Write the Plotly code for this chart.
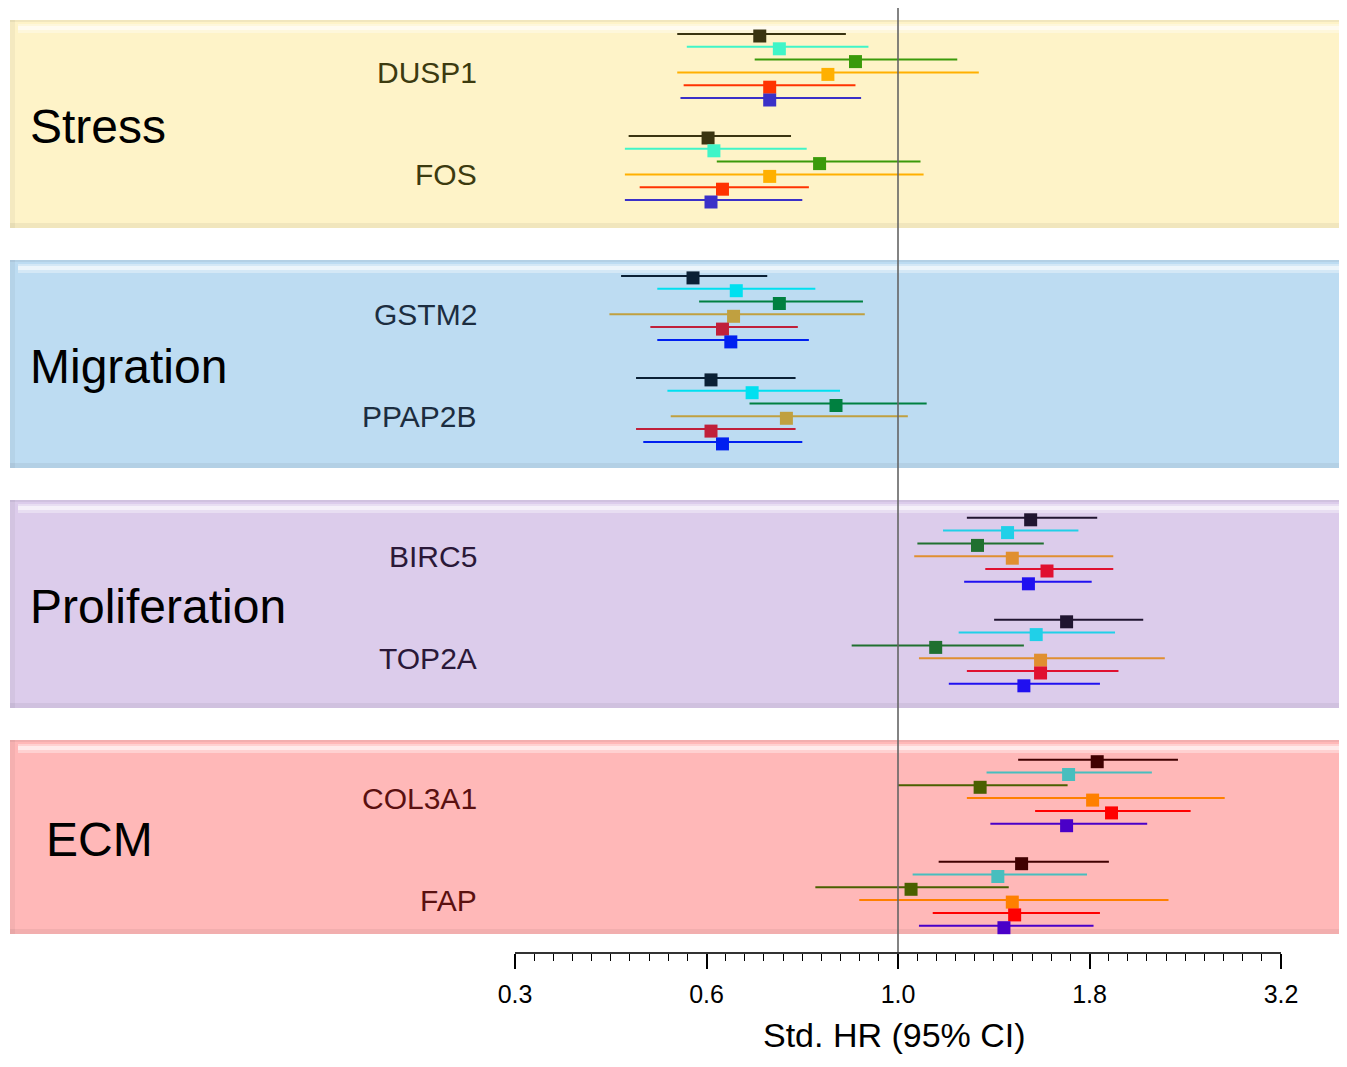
import plotly.graph_objects as go

# ---------------- data ----------------
GROUPS = ["Stress", "Migration", "Proliferation", "ECM"]
GENES = [["DUSP1", "FOS"], ["GSTM2", "PPAP2B"], ["BIRC5", "TOP2A"], ["COL3A1", "FAP"]]

DUSP1_HR = [0.66, 0.70, 0.88, 0.81, 0.68, 0.68]
DUSP1_LO = [0.515, 0.53, 0.65, 0.515, 0.525, 0.52]
DUSP1_HI = [0.855, 0.915, 1.195, 1.275, 0.88, 0.895]
FOS_HR = [0.565, 0.575, 0.79, 0.68, 0.59, 0.57]
FOS_LO = [0.445, 0.44, 0.58, 0.44, 0.46, 0.44]
FOS_HI = [0.725, 0.76, 1.07, 1.08, 0.765, 0.75]
GSTM2_HR = [0.54, 0.615, 0.70, 0.61, 0.59, 0.605]
GSTM2_LO = [0.435, 0.485, 0.55, 0.42, 0.475, 0.485]
GSTM2_HI = [0.675, 0.78, 0.90, 0.905, 0.74, 0.765]
PPAP2B_HR = [0.57, 0.645, 0.83, 0.715, 0.57, 0.59]
PPAP2B_LO = [0.455, 0.50, 0.64, 0.505, 0.455, 0.465]
PPAP2B_HI = [0.735, 0.84, 1.09, 1.03, 0.735, 0.75]
BIRC5_HR = [1.49, 1.39, 1.27, 1.41, 1.565, 1.48]
BIRC5_LO = [1.23, 1.145, 1.06, 1.05, 1.30, 1.22]
BIRC5_HI = [1.82, 1.72, 1.55, 1.91, 1.91, 1.79]
TOP2A_HR = [1.66, 1.515, 1.12, 1.535, 1.535, 1.46]
TOP2A_LO = [1.335, 1.20, 0.87, 1.065, 1.23, 1.165]
TOP2A_HI = [2.09, 1.92, 1.46, 2.23, 1.94, 1.835]
COL3A1_HR = [1.82, 1.67, 1.28, 1.795, 1.90, 1.66]
COL3A1_LO = [1.435, 1.305, 1.00, 1.23, 1.51, 1.32]
COL3A1_HI = [2.32, 2.145, 1.665, 2.67, 2.41, 2.115]
FAP_HR = [1.45, 1.35, 1.04, 1.41, 1.42, 1.375]
FAP_LO = [1.13, 1.045, 0.78, 0.89, 1.11, 1.065]
FAP_HI = [1.885, 1.765, 1.395, 2.255, 1.835, 1.80]

TICK_LABELS = ["0.3", "0.6", "1.0", "1.8", "3.2"]
AXIS_TITLE = "Std. HR (95% CI)"

DATA = {
    "DUSP1": (DUSP1_HR, DUSP1_LO, DUSP1_HI),
    "FOS": (FOS_HR, FOS_LO, FOS_HI),
    "GSTM2": (GSTM2_HR, GSTM2_LO, GSTM2_HI),
    "PPAP2B": (PPAP2B_HR, PPAP2B_LO, PPAP2B_HI),
    "BIRC5": (BIRC5_HR, BIRC5_LO, BIRC5_HI),
    "TOP2A": (TOP2A_HR, TOP2A_LO, TOP2A_HI),
    "COL3A1": (COL3A1_HR, COL3A1_LO, COL3A1_HI),
    "FAP": (FAP_HR, FAP_LO, FAP_HI),
}

# ---------------- styles ----------------
COLORS = [
    ["#3a3410", "#40f5c8", "#3a9a0a", "#ffb000", "#ff3300", "#3a30c8"],
    ["#0a2035", "#00e0f0", "#008040", "#c0a040", "#c0203a", "#0020f0"],
    ["#201530", "#20d0e8", "#207030", "#e08f30", "#e01030", "#2010f0"],
    ["#400000", "#48bebe", "#4a6000", "#ff8000", "#ff0000", "#4a00c8"],
]
PANEL_FILL = ["#fef3c8", "#bddcf2", "#dccceb", "#ffb8b8"]
PANEL_Y = [(20, 228), (260, 468), (500, 708), (740, 934)]
GENE_COLOR = ["#3c3a0f", "#1c2d40", "#2a1838", "#5a1010"]
GROUP_LABEL_X = [28, 28, 28, 44]

# page body has an 8px margin; keep the figure inside the window
OFF = 8
W, H = 1347 - 2 * OFF, 1067 - 2 * OFF
AX_Y = 952          # axis line, in window pixels
FONT = "Liberation Sans, Arial, sans-serif"


def px(x):  # window pixel -> paper x
    return (x - OFF) / W


def py(y):  # window pixel -> paper y
    return 1 - (y - OFF) / H


fig = go.Figure()
shapes = []
annotations = []

for g, grp in enumerate(GROUPS):
    y_top, y_bot = PANEL_Y[g]
    shapes.append(dict(type="rect", xref="paper", yref="y", x0=px(10), x1=1,
                       y0=y_top, y1=y_bot, fillcolor=PANEL_FILL[g], line_width=0, layer="below"))
    # bevel: thin darker top edge, bright highlight band, shaded bottom and left edges
    shapes.append(dict(type="rect", xref="paper", yref="y", x0=px(10), x1=1,
                       y0=y_top, y1=y_top + 2, fillcolor="rgba(0,0,0,0.05)",
                       line_width=0, layer="below"))
    shapes.append(dict(type="rect", xref="paper", yref="y", x0=px(18), x1=1,
                       y0=y_top + 4, y1=y_top + 13, fillcolor="rgba(255,255,255,0.35)",
                       line_width=0, layer="below"))
    shapes.append(dict(type="rect", xref="paper", yref="y", x0=px(18), x1=1,
                       y0=y_top + 6, y1=y_top + 10, fillcolor="rgba(255,255,255,0.55)",
                       line_width=0, layer="below"))
    shapes.append(dict(type="rect", xref="paper", yref="y", x0=px(10), x1=1,
                       y0=y_bot - 5, y1=y_bot, fillcolor="rgba(0,0,0,0.05)",
                       line_width=0, layer="below"))
    shapes.append(dict(type="rect", xref="paper", yref="y", x0=px(10), x1=px(15),
                       y0=y_top, y1=y_bot, fillcolor="rgba(0,0,0,0.04)",
                       line_width=0, layer="below"))

    g_start = 34 + g * 241.9
    ys_all = []
    for k, gene in enumerate(GENES[g]):
        base = g_start + k * 102
        ys_all.append([base + r * 12.8 for r in range(6)])
        annotations.append(dict(text=gene, xref="paper", yref="y", x=px(479),
                                y=base + 3 * 12.8, xanchor="right", yanchor="middle",
                                showarrow=False,
                                font=dict(family=FONT, size=30, color=GENE_COLOR[g])))
    annotations.append(dict(text=grp, xref="paper", yref="y", x=px(GROUP_LABEL_X[g]),
                            y=(y_top + y_bot) / 2 + 2, xanchor="left", yanchor="middle",
                            showarrow=False, font=dict(family=FONT, size=48, color="black")))

    for c in range(6):
        lx, ly, mx, my = [], [], [], []
        for k, gene in enumerate(GENES[g]):
            hr, lo, hi = DATA[gene]
            y = ys_all[k][c]
            lx += [lo[c], hi[c], None]
            ly += [y, y, None]
            mx.append(hr[c])
            my.append(y + 2)
        fig.add_trace(go.Scatter(x=lx, y=ly, mode="lines",
                                 line=dict(color=COLORS[g][c], width=2),
                                 showlegend=False, hoverinfo="skip"))
        fig.add_trace(go.Scatter(x=mx, y=my, mode="markers",
                                 marker=dict(symbol="square", size=13, color=COLORS[g][c],
                                             line=dict(width=0)),
                                 showlegend=False))

# reference line at HR = 1
shapes.append(dict(type="line", xref="x", yref="y", x0=1, x1=1, y0=OFF, y1=AX_Y,
                   line=dict(color="rgba(100,100,100,0.8)", width=2), layer="above"))

annotations.append(dict(text=AXIS_TITLE, xref="paper", yref="paper", x=px(894),
                        y=py(1035), xanchor="center", yanchor="middle", showarrow=False,
                        borderpad=0,
                        font=dict(family=FONT, size=34, color="black")))

major_vals = [10 ** (k / 4) for k in range(-2, 3)]
minor_vals = [10 ** (k * 0.025) for k in range(-20, 21) if k % 10 != 0]

fig.update_layout(
    width=W, height=H, autosize=False,
    margin=dict(l=0, r=0, t=0, b=0),
    paper_bgcolor="white", plot_bgcolor="rgba(0,0,0,0)",
    shapes=shapes, annotations=annotations,
    xaxis=dict(type="log", range=[-0.5, 0.5], domain=[px(515), px(1281)],
               tickmode="array", tickvals=major_vals, ticktext=TICK_LABELS,
               ticks="outside", ticklen=15, tickwidth=1.5, tickcolor="black",
               ticklabelstandoff=4,
               showline=True, linecolor="#333333", linewidth=2, showgrid=False,
               zeroline=False, tickfont=dict(family=FONT, size=25, color="black"),
               minor=dict(tickmode="array", tickvals=minor_vals, ticks="outside",
                          ticklen=7, tickwidth=1.2, tickcolor="black", showgrid=False),
               automargin=False, fixedrange=True),
    yaxis=dict(range=[AX_Y, OFF], domain=[py(AX_Y), 1], visible=False,
               showgrid=False, zeroline=False, fixedrange=True, automargin=False),
)

fig.write_html("out.html")
